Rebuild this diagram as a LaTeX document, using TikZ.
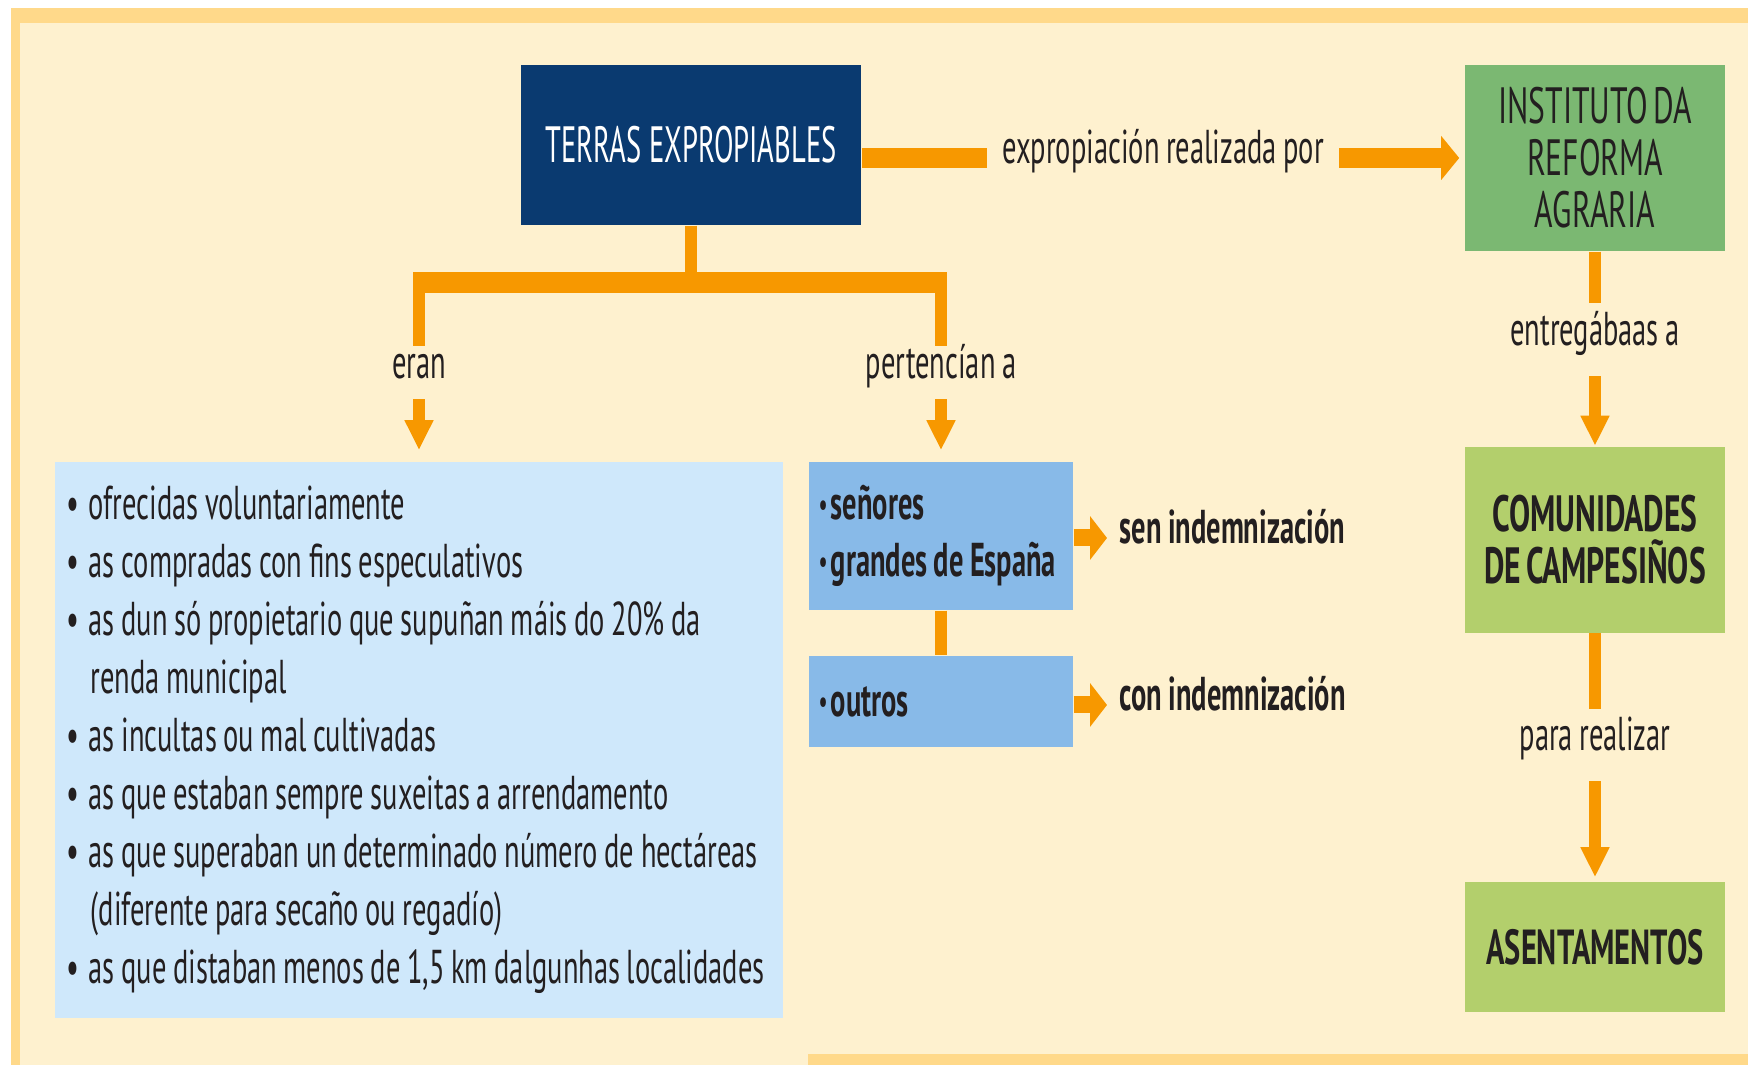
\documentclass[tikz,border=0pt]{standalone}
\usepackage{fontspec}
\setmainfont{PT Sans}[FakeStretch=0.6, WordSpace=0.87]
\newfontfamily\capsfont{PT Sans}[FakeStretch=0.62, WordSpace=0.62]
\newfontfamily\titlefont{PT Sans}[FakeStretch=0.56, WordSpace=1.0]
\usetikzlibrary{arrows.meta, positioning}
\definecolor{cream}{HTML}{FEF1CF}
\definecolor{border}{HTML}{FFD98A}
\definecolor{flow}{HTML}{F79800}
\definecolor{navy}{HTML}{0A3A70}
\definecolor{paleblue}{HTML}{CFE8FB}
\definecolor{midblue}{HTML}{88BAE8}
\definecolor{darkgreen}{HTML}{7BB872}
\definecolor{lightgreen}{HTML}{B3CF6C}
\definecolor{ink}{HTML}{231F20}
% plain word spaces inside aligned nodes
\newcommand{\nsp}{\spaceskip=0pt\xspaceskip=0pt\relax}
\newcommand{\bul}{\hspace*{0.08cm}\makebox[0.22cm][l]{\textbullet}}
\newcommand{\cont}{\hspace*{0.32cm}}
\newcommand{\sbul}{\makebox[0.12cm][l]{\raisebox{0.04cm}{\fontsize{9}{9}\selectfont\textbullet}}}
\tikzstyle{block} = [rectangle, inner sep=0pt, align=center, text=ink,
    font=\capsfont\fontsize{14.5}{14.8}\selectfont]
\tikzstyle{list} = [rectangle, inner ysep=0pt, align=left, text=ink]

\begin{document}
\begin{tikzpicture}[x=0.01cm, y=-0.01cm,
font=\fontsize{13.5}{16.5}\selectfont,
lbl/.style = {fill=cream, inner sep=0pt, text=ink, text height=0.30cm, text depth=0.18cm},
stem/.style = {draw=flow, line width=0.12cm},
bar/.style = {draw=flow, line width=0.21cm},
drop/.style = {stem, -{Triangle[length=0.30cm, width=0.27cm]}},
side/.style = {draw=flow, line width=0.17cm, -{Triangle[length=0.17cm, width=0.43cm]}},
long/.style = {draw=flow, line width=0.20cm, -{Triangle[length=0.18cm, width=0.43cm]}, shorten >=0.05cm}
                        ]
\useasboundingbox (0,0) rectangle (1748,1065);
% frame
\fill[white] (0,0) rectangle (1748,1065);
\fill[cream] (11,8) rectangle (1748,1065);
\fill[border] (11,8) rectangle (1748,23);
\fill[border] (11,8) rectangle (20,1065);
\fill[border] (808,1054) rectangle (1748,1065);

% boxes
\node[block, fill=navy, text=white, minimum width=3.40cm, minimum height=1.60cm,
    font=\titlefont\fontsize{14.5}{17}\selectfont] (terras) at (691,145) {\nsp TERRAS EXPROPIABLES};
\node[block, fill=darkgreen, minimum width=2.60cm, minimum height=1.86cm] (inst) at (1595,158)
    {\nsp INSTITUTO DA\\REFORMA\\AGRARIA};
\node[block, fill=lightgreen, minimum width=2.60cm, minimum height=1.85cm,
    font=\capsfont\bfseries\fontsize{14.5}{14.8}\selectfont] (comu) at (1595,540)
    {\nsp COMUNIDADES\\DE CAMPESIÑOS};
\node[block, fill=lightgreen, minimum width=2.60cm, minimum height=1.30cm,
    font=\capsfont\bfseries\fontsize{14}{14.8}\selectfont] (asent) at (1595,947) {ASENTAMENTOS};

\node[list, fill=paleblue, inner xsep=0.04cm, minimum width=7.28cm, minimum height=5.56cm,
    text width=7.20cm] (listA) at (419,740) {\nsp
\bul ofrecidas voluntariamente\\
\bul as compradas con fins especulativos\\
\bul as dun só propietario que supuñan máis do 20\% da\\
\cont renda municipal\\
\bul as incultas ou mal cultivadas\\
\bul as que estaban sempre suxeitas a arrendamento\\
\bul as que superaban un determinado número de hectáreas\\
\cont (diferente para secaño ou regadío)\\
\bul as que distaban menos de 1,5 km dalgunhas localidades};

\node[list, fill=midblue, inner xsep=0.10cm, minimum width=2.64cm, minimum height=1.48cm,
    text width=2.44cm, font=\bfseries\fontsize{13.5}{16.2}\selectfont] (box1) at (941,536)
    {\nsp\sbul señores\\ \sbul grandes de España};
\node[list, fill=midblue, inner xsep=0.10cm, minimum width=2.64cm, minimum height=0.91cm,
    text width=2.44cm, font=\bfseries\fontsize{13.5}{16.2}\selectfont] (box2) at (941,701.5)
    {\sbul outros};

\node[lbl, anchor=west, inner xsep=0.12cm, font=\bfseries\fontsize{13.5}{16.2}\selectfont]
    (sen) at (1107,538) {sen indemnización};
\node[lbl, anchor=west, inner xsep=0.12cm, font=\bfseries\fontsize{13.5}{16.2}\selectfont]
    (con) at (1107,705) {con indemnización};

% connectors
\coordinate (barL) at (413,283);
\coordinate (barR) at (947,283);
\draw[stem] (terras.south) -- (terras.south |- barL);
\draw[drop, shorten >=0.11cm] (listA.north |- barL) -- node[lbl, minimum height=0.53cm] {eran} (listA.north);
\draw[drop, shorten >=0.11cm] (box1.north |- barL) -- node[lbl, minimum height=0.53cm] {pertencían a} (box1.north);
\draw[bar] (barL) -- (barR);
\draw[stem] (box1.south) -- (box2.north);
\draw[side] (box1.east |- sen.west) -- (sen.west);
\draw[side] (box2.east |- con.west) -- (con.west);

\draw[long] (terras.east |- inst.west) -- node[lbl, inner xsep=0.15cm] {expropiación realizada por} (inst.west);
\draw[drop, shorten >=0.01cm] (inst.south) -- node[lbl, pos=0.45, minimum height=0.73cm] {entregábaas a} (comu.north);
\draw[drop, shorten >=0.04cm] (comu.south) -- node[lbl, pos=0.45, minimum height=0.72cm] {para realizar} (asent.north);
\end{tikzpicture}
\end{document}
